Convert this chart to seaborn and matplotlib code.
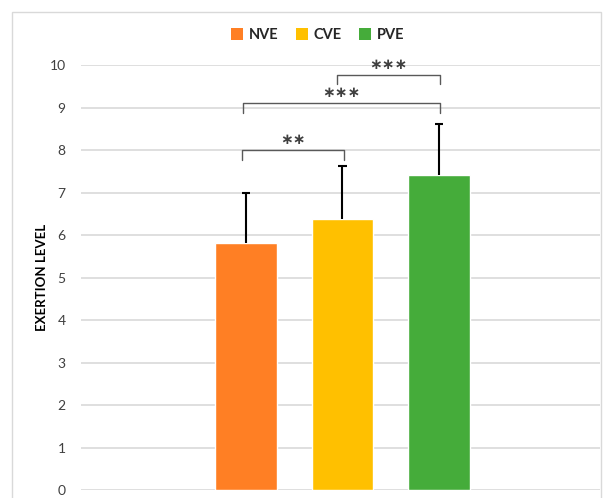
import matplotlib
matplotlib.use("Agg")
import matplotlib.pyplot as plt
import seaborn as sns
import pandas as pd
import numpy as np
from matplotlib.patches import Rectangle, Patch

categories = ["NVE", "CVE", "PVE"]
means = [5.81, 6.38, 7.41]
sds = [1.19, 1.24, 1.21]
colors = ["#FF7F24", "#FFC000", "#45AC3A"]
yticks = [0, 1, 2, 3, 4, 5, 6, 7, 8, 9, 10]
# significance brackets: (left cat idx, right cat idx, bar level, tick bottom, label)
brackets = [(0, 1, 8.0, 7.77, "**"), (0, 2, 9.1, 8.88, "***"), (1, 2, 9.77, 9.55, "***")]

sns.set_theme(style="white")
plt.rcParams['font.family'] = ['Lato', 'DejaVu Sans']

df = pd.DataFrame({"cat": categories, "val": means})

fig = plt.figure(figsize=(6.05, 4.98), dpi=100)
ax = fig.add_axes([81/605, 1-490/498, (600-81)/605, (490-65)/498])

sns.barplot(data=df, x="cat", y="val", hue="cat", palette=colors, width=0.64,
            dodge=False, legend=False, ax=ax, saturation=1, errorbar=None, zorder=3)

xs = np.arange(len(categories))
tops = np.array(means) + np.array(sds)
ax.vlines(xs, means, tops, color="black", lw=1.5, zorder=4)
ax.hlines(tops, xs - 0.045, xs + 0.045, color="black", lw=1.5, zorder=4)

ax.set_ylim(0, 10)
ax.set_xlim(-1.71, 3.67)
ax.set_yticks(yticks)
ax.set_yticklabels([str(t) for t in yticks], fontsize=10, color="#404040")
ax.set_xticks([])
ax.set_xlabel("")
ax.set_ylabel("EXERTION LEVEL", fontsize=9.5, fontweight="bold", color="black", labelpad=1)
ax.yaxis.grid(True, color="#D9D9D9", linewidth=1.2, zorder=0)
ax.set_axisbelow(True)
for s in ax.spines.values():
    s.set_visible(False)
ax.tick_params(axis="y", length=0, pad=11)

for (a, b, lvl, bot, lab) in brackets:
    xa = a - 0.04 if b == 1 else a - 0.03
    xb = b + 0.02 if b == 1 else b + 0.01
    if a == 1:
        xa = a - 0.06
    ax.plot([xa, xa, xb, xb], [bot, lvl, lvl, bot], color="#595959", lw=1, zorder=5)
    ax.text((xa + xb) / 2, lvl + 0.07, lab.replace("*", "\u2217"), ha="center",
            va="bottom", fontsize=11, fontweight="bold", color="#404040", family=["DejaVu Sans"])

handles = [Patch(facecolor=c, edgecolor="none") for c in colors]
fig.legend(handles, categories, loc="center", bbox_to_anchor=(0.525, 1-35/498), ncol=3,
           frameon=False, handlelength=0.8, handleheight=0.8, handletextpad=0.4,
           columnspacing=1.2, prop={"weight": "bold", "size": 10.5})

fig.patches.append(Rectangle((12/605, -0.1), (601-12)/605, 1.1-12/498, transform=fig.transFigure,
                             fill=False, edgecolor="#D9D9D9", lw=1))

fig.savefig("out.png", dpi=100)
